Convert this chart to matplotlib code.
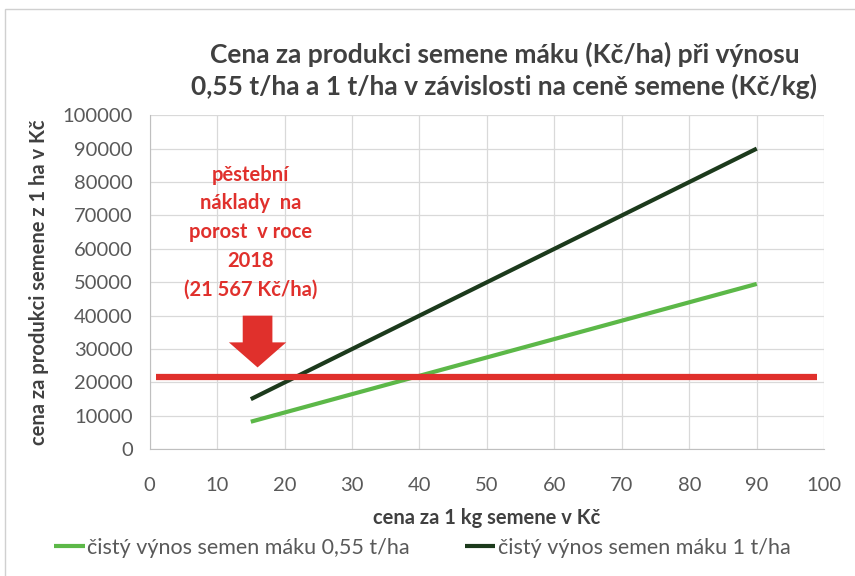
import matplotlib.pyplot as plt
from matplotlib.patches import FancyArrow, Rectangle

plt.rcParams['font.family'] = ['Lato', 'DejaVu Sans']

# cena semene (Kč/kg) a trzby (Kč/ha)
price = [15, 20, 30, 40, 50, 60, 70, 80, 90]
yield_055 = [8250, 11000, 16500, 22000, 27500, 33000, 38500, 44000, 49500]
yield_1 = [15000, 20000, 30000, 40000, 50000, 60000, 70000, 80000, 90000]
costs = 21567
costs_x = [1, 99]
arrow_x = 16
arrow_top, arrow_tip = 40000, 24500
note_x, note_y = 15, 65000

gray = '#404040'
fig = plt.figure(figsize=(8.55, 5.76), dpi=100)
ax = fig.add_axes([0.175, 0.22, 0.789, 0.58])

ax.plot(price, yield_055, color='#5cb848', lw=3, label='čistý výnos semen máku 0,55 t/ha', solid_capstyle='butt')
ax.plot(price, yield_1, color='#1c3a1c', lw=3, label='čistý výnos semen máku 1 t/ha', solid_capstyle='butt')
ax.plot(costs_x, [costs, costs], color='#e0302c', lw=4.5, solid_capstyle='butt')

ax.add_patch(FancyArrow(arrow_x, arrow_top, 0, arrow_tip - arrow_top, width=4.4,
                        head_width=8.5, head_length=7500, length_includes_head=True,
                        color='#e0302c', lw=0))
ax.text(note_x, note_y, 'pěstební\nnáklady  na\nporost  v roce\n2018\n(21 567 Kč/ha)',
        ha='center', va='center', color='#e0302c', fontsize=14.5, fontweight='bold',
        linespacing=1.55)

ax.set_xlim(0, 100)
ax.set_ylim(0, 100000)
ax.set_xticks(range(0, 101, 10))
ax.set_yticks(range(0, 100001, 10000))
ax.grid(True, color='#d9d9d9', lw=0.9)
ax.set_axisbelow(True)
for s in ['top', 'right']:
    ax.spines[s].set_visible(False)
for s in ['left', 'bottom']:
    ax.spines[s].set_color('#bfbfbf')
ax.tick_params(axis='both', length=0, labelsize=14.5, labelcolor='#595959')
ax.tick_params(axis='x', pad=20)
ax.tick_params(axis='y', pad=12)

ax.set_xlabel('cena za 1 kg semene v Kč', fontsize=14.5, fontweight='bold', color=gray, labelpad=10)
ax.set_ylabel('cena za produkci semene z 1 ha v Kč', fontsize=14.5, fontweight='bold', color=gray, labelpad=10)
fig.text(0.59, 0.878, 'Cena za produkci semene máku (Kč/ha) při výnosu\n0,55 t/ha a 1 t/ha v závislosti na ceně semene (Kč/kg)',
         ha='center', va='center', fontsize=19, fontweight='bold', color=gray, linespacing=1.35)

fig.legend(loc='center', bbox_to_anchor=(0.494, 0.049), ncol=2, frameon=False, fontsize=15.5,
           labelcolor='#595959', handlelength=1.4, handletextpad=0.1, columnspacing=2.6)

fig.patches.append(Rectangle((0.006, -0.01), 1.1, 0.995, transform=fig.transFigure,
                             fill=False, edgecolor='#d0d0d0', lw=1))

fig.savefig('out.png', dpi=100)
